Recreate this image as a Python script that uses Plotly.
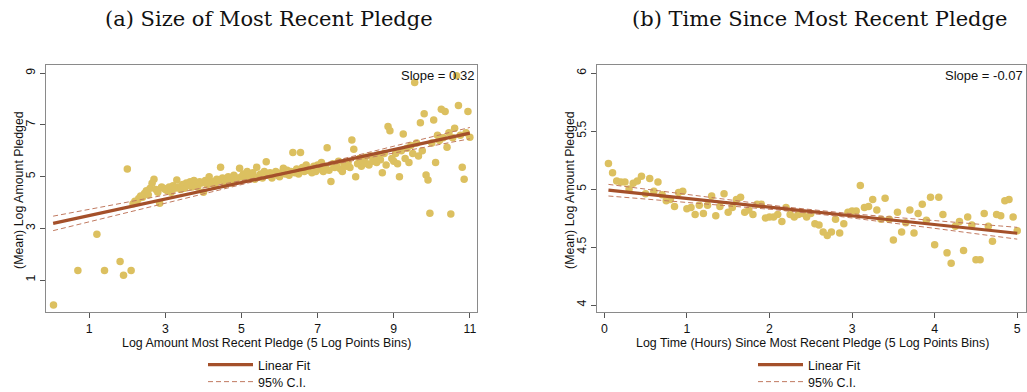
import numpy as np
import plotly.graph_objects as go

# ---------------- Data: panel (a) ----------------
a_sparse_x = [0.06, 0.70, 1.20, 1.40, 1.81, 1.90, 2.00, 2.10]
a_sparse_y = [0.03, 1.37, 2.77, 1.37, 1.72, 1.18, 5.30, 1.37]

a_dense_y = (
    [3.95, 4.05, 4.0, 4.15, 4.25, 4.2, 4.35, 4.45, 4.3, 4.55, 4.74, 4.9, 4.5, 4.4, 3.97, 4.6, 4.55]
    + [4.5, 4.45, 4.6, 4.4, 4.65, 4.55, 4.87, 4.6, 4.5, 4.7, 4.55, 4.75, 4.65, 4.8, 4.6, 4.85, 4.7, 4.6, 4.8, 4.75]
    + [4.4, 4.85, 4.7, 5.0, 4.75, 4.8, 4.65, 4.9, 4.85, 5.36, 4.95, 4.7, 4.8, 5.0, 4.9, 4.75, 5.05, 4.85, 4.95, 5.32]
    + [5.0, 5.1, 4.9, 5.2, 5.05, 4.95, 5.15, 4.9, 5.36, 5.0, 5.1, 4.95, 5.2, 5.58, 5.05, 5.15, 4.95, 5.1, 5.2, 5.05]
    + [5.0, 5.15, 5.32, 5.1, 5.25, 5.05, 5.2, 5.93, 5.15, 5.3, 5.1, 5.93, 5.35, 5.2, 5.45, 5.25, 5.3, 5.15, 5.4, 5.2]
    + [5.45, 5.3, 5.55, 5.2, 5.4, 6.12, 5.25, 4.81, 5.5, 5.35, 5.45, 5.6, 5.3, 5.2, 5.5, 5.4, 5.55, 5.35, 6.42, 6.06]
    + [5.0, 5.5, 5.7, 5.4, 5.6, 5.75, 5.5, 5.45, 5.8, 5.6, 5.7, 5.55, 5.85, 5.65, 5.15, 5.9, 5.45, 6.94, 6.78, 5.7]
    + [5.6, 5.9, 5.5, 5.0, 6.0, 6.65, 5.7, 6.1, 5.55, 6.2, 5.9, 8.64, 6.3, 5.8, 7.09, 6.0, 7.43, 5.06, 4.87, 3.58]
    + [6.3, 7.19, 5.55, 6.6, 6.4, 7.61, 6.5, 7.52, 6.14, 6.7, 3.55, 6.5, 6.87, 8.9, 7.75, 6.6, 5.36, 4.9, 6.7, 7.52, 6.52]
)
a_dense_start, a_bin = 2.15, 0.05
a_dense_x = [round(a_dense_start + a_bin * i, 2) for i in range(len(a_dense_y))]
a_x = a_sparse_x + a_dense_x
a_y = a_sparse_y + a_dense_y

# fitted line (intercept, slope) and CI half-width params (center, min, growth)
a_fit = dict(b0=3.174, b1=0.319, xc=6.2, hmin=0.03, hb=0.0453, xmin=0.05, xmax=11.0)
a_slope_label = "Slope = 0.32"

# ---------------- Data: panel (b) ----------------
b_y = [5.22, 5.14, 5.07, 5.06, 5.06, 5.00, 5.05, 5.07, 5.11, 4.96,
       5.09, 4.98, 5.06, 4.95, 4.90, 4.91, 4.85, 4.97, 4.98, 4.83,
       4.84, 4.78, 4.86, 4.79, 4.86, 4.94, 4.77, 4.85, 4.96, 4.80,
       4.84, 4.91, 4.93, 4.80, 4.82, 4.78, 4.87, 4.87, 4.75, 4.76,
       4.76, 4.78, 4.72, 4.84, 4.78, 4.76, 4.78, 4.79, 4.76, 4.79,
       4.70, 4.69, 4.63, 4.60, 4.63, 4.74, 4.62, 4.70, 4.80, 4.81,
       4.81, 5.03, 4.84, 4.85, 4.91, 4.82, 4.74, 4.92, 4.74, 4.56,
       4.80, 4.63, 4.71, 4.82, 4.62, 4.79, 4.87, 4.73, 4.93, 4.52,
       4.93, 4.78, 4.45, 4.36, 4.68, 4.72, 4.47, 4.76, 4.69, 4.39,
       4.39, 4.79, 4.68, 4.55, 4.78, 4.77, 4.90, 4.91, 4.76, 4.64]
b_x = [round(0.05 * (i + 1), 2) for i in range(len(b_y))]
b_fit = dict(b0=4.994, b1=-0.075, xc=2.5, hmin=0.015, hb=0.0195, xmin=0.05, xmax=5.0)
b_slope_label = "Slope = -0.07"

# ---------------- Text ----------------
titles = ["(a) Size of Most Recent Pledge", "(b) Time Since Most Recent Pledge"]
xtitles = ["Log Amount Most Recent Pledge (5 Log Points Bins)",
           "Log Time (Hours) Since Most Recent Pledge (5 Log Points Bins)"]
ytitle = "(Mean) Log Amount Pledged"
legend_names = ["Linear Fit", "95% C.I."]
a_xticks = [1, 3, 5, 7, 9, 11]
a_yticks = [1, 3, 5, 7, 9]
b_xticks = [0, 1, 2, 3, 4, 5]
b_yticks = [4, 4.5, 5, 5.5, 6]
b_yticktext = ["4", "4.5", "5", "5.5", "6"]

# ---------------- Styling ----------------
W, H = 1027, 392
DOT = "#DCC060"
FIT = "#A4502A"
CI = "#C07A60"
FRAME = "#8a8a8a"
FONT = "Liberation Sans, Arial, sans-serif"

fig = go.Figure()

def add_panel(xs, ys, fit, xa, ya, leg_fit, leg_ci):
    fig.add_trace(go.Scatter(x=xs, y=ys, mode="markers", xaxis=xa, yaxis=ya,
                             marker=dict(color=DOT, size=7.5, line=dict(width=0)),
                             showlegend=False, hoverinfo="x+y"))
    xg = np.linspace(fit["xmin"], fit["xmax"], 200)
    yfit = fit["b0"] + fit["b1"] * xg
    h = np.sqrt(fit["hmin"] ** 2 + (fit["hb"] * (xg - fit["xc"])) ** 2)
    fig.add_trace(go.Scatter(x=xg, y=yfit + h, mode="lines", xaxis=xa, yaxis=ya,
                             line=dict(color=CI, width=1, dash="5px,3px"),
                             name=legend_names[1], legend=leg_ci, hoverinfo="skip"))
    fig.add_trace(go.Scatter(x=xg, y=yfit - h, mode="lines", xaxis=xa, yaxis=ya,
                             line=dict(color=CI, width=1, dash="5px,3px"),
                             showlegend=False, hoverinfo="skip"))
    fig.add_trace(go.Scatter(x=xg, y=yfit, mode="lines", xaxis=xa, yaxis=ya,
                             line=dict(color=FIT, width=3.2),
                             name=legend_names[0], legend=leg_fit, hoverinfo="skip"))

add_panel(a_x, a_y, a_fit, "x", "y", "legend", "legend3")
add_panel(b_x, b_y, b_fit, "x2", "y2", "legend2", "legend4")

ydom = [1 - 312.3 / H, 1 - 65 / H]
ax_common = dict(showgrid=False, zeroline=False, showline=True, linecolor=FRAME,
                 linewidth=1.3, mirror=True, ticks="outside", ticklen=4.5,
                 tickcolor="#555", tickfont=dict(family=FONT, size=12.3, color="#111"))

def leg(xpx, ypx):
    return dict(x=xpx / W, y=1 - ypx / H, xanchor="left", yanchor="middle",
                bgcolor="rgba(0,0,0,0)", font=dict(family=FONT, size=12.5, color="#111"),
                tracegroupgap=0, itemwidth=45)

fig.update_layout(
    width=W, height=H, margin=dict(l=0, r=0, t=0, b=0, autoexpand=False),
    paper_bgcolor="white", plot_bgcolor="white",
    xaxis=dict(domain=[45.7 / W, 476.7 / W], range=[-0.145, 11.18],
               tickvals=a_xticks, anchor="y", automargin=False, **ax_common),
    yaxis=dict(domain=ydom, range=[-0.25, 9.32], tickvals=a_yticks,
               tickangle=-90, anchor="x", automargin=False, **ax_common),
    xaxis2=dict(domain=[596.7 / W, 1025.5 / W], range=[-0.092, 5.1],
                tickvals=b_xticks, anchor="y2", automargin=False, **ax_common),
    yaxis2=dict(domain=ydom, range=[3.937, 6.07], tickvals=b_yticks,
                ticktext=b_yticktext, tickangle=-90, anchor="x2", automargin=False,
                **ax_common),
    legend=leg(203, 365),
    legend3=leg(203, 382),
    legend2=leg(753, 365),
    legend4=leg(753, 382),
    showlegend=True,
)

annots = []
# panel titles
annots.append(dict(x=269 / W, y=1 - 19 / H, text=titles[0]))
annots.append(dict(x=819 / W, y=1 - 19 / H, text=titles[1]))
for a in annots:
    a.update(xref="paper", yref="paper", xanchor="center", yanchor="middle",
             showarrow=False, font=dict(family="DejaVu Serif, Liberation Serif, serif",
                                        size=21, color="#111"))
# axis titles
axis_font = dict(family=FONT, size=12.4, color="#111")
annots.append(dict(x=266 / W, y=1 - 342.5 / H, text=xtitles[0], xref="paper", yref="paper",
                   showarrow=False, font=axis_font, xanchor="center", yanchor="middle"))
annots.append(dict(x=812 / W, y=1 - 342.5 / H, text=xtitles[1], xref="paper", yref="paper",
                   showarrow=False, font=axis_font, xanchor="center", yanchor="middle"))
annots.append(dict(x=19 / W, y=1 - 190 / H, text=ytitle, xref="paper", yref="paper",
                   textangle=-90, showarrow=False, font=axis_font,
                   xanchor="center", yanchor="middle"))
annots.append(dict(x=570 / W, y=1 - 190 / H, text=ytitle, xref="paper", yref="paper",
                   textangle=-90, showarrow=False, font=axis_font,
                   xanchor="center", yanchor="middle"))
# slope labels
annots.append(dict(x=1, y=1, xref="x domain", yref="y domain", text=a_slope_label,
                   xanchor="right", yanchor="top", showarrow=False,
                   font=dict(family=FONT, size=13, color="#111"), xshift=-1, yshift=-1))
annots.append(dict(x=1, y=1, xref="x2 domain", yref="y2 domain", text=b_slope_label,
                   xanchor="right", yanchor="top", showarrow=False,
                   font=dict(family=FONT, size=13, color="#111"), xshift=-1, yshift=-1))
fig.update_layout(annotations=annots)

fig.write_html("out.html", config={"displayModeBar": False},
               post_script="document.body.style.margin='0';document.body.style.padding='0';")
